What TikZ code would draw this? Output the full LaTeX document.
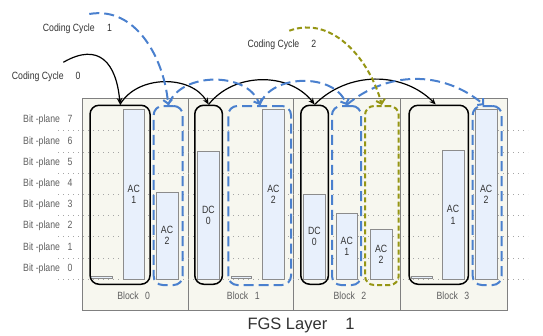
\documentclass[tikz,border=0pt]{standalone}
\usepackage{fontspec}
\setmainfont{Liberation Sans}
\newfontfamily\narrowsans[FakeStretch=0.83]{Liberation Sans}
\usetikzlibrary{arrows.meta}
\definecolor{cblue}{RGB}{74,128,206}
\definecolor{colive}{RGB}{150,150,20}
\definecolor{bgblk}{RGB}{247,247,239}
\definecolor{barfill}{RGB}{232,240,252}
\definecolor{txtdark}{RGB}{50,50,50}
\definecolor{txtgray}{RGB}{95,95,95}
\begin{document}
\begin{tikzpicture}[x=1pt,y=-1pt,
  smalltxt/.style={font=\narrowsans\fontsize{10.5}{11.2}\selectfont, inner sep=0pt},
  lbl/.style={smalltxt, text=txtdark, anchor=west},
  bplbl/.style={smalltxt, text=txtgray, anchor=west},
  blklbl/.style={smalltxt, text=txtgray},
  blockbg/.style={draw=black!50, fill=bgblk, line width=0.8pt, inner sep=0pt,
    minimum width=106pt, minimum height=211.7pt, anchor=north west},
  bar/.style={draw=black!45, fill=barfill, line width=0.6pt, inner sep=0pt,
    minimum width=21.5pt, anchor=south west, smalltxt, text=txtdark, align=center},
  kbox/.style={draw=black, line width=1.5pt, rounded corners=9pt, inner sep=0pt,
    minimum height=179pt, anchor=north west},
  ubox/.style={draw=cblue, line width=2pt, dash pattern=on 10pt off 5pt,
    rounded corners=9pt, inner sep=0pt, minimum height=179pt, anchor=north west},
  obox/.style={draw=colive, line width=2pt, dash pattern=on 5pt off 3pt,
    rounded corners=9pt, inner sep=0pt, minimum height=179pt, anchor=north west},
  dotline/.style={draw=black!35, line width=1.1pt, dash pattern=on 1.3pt off 3.7pt},
  karrow/.style={draw=black, line width=1.2pt, -{Stealth[length=6.5pt,width=5.5pt]}},
  uarrow/.style={draw=cblue, line width=2pt, dash pattern=on 10pt off 5pt,
    -{Straight Barb[length=4pt,width=9pt]}},
  oarrow/.style={draw=colive, line width=2pt, dash pattern=on 5pt off 3pt,
    -{Straight Barb[length=4pt,width=9pt]}}
]
\useasboundingbox (0,0) rectangle (543,335);

% blocks
\node[blockbg] (blk0) at (82,98.3) {};
\node[blockbg, minimum width=105pt] (blk1) at (188,98.3) {};
\node[blockbg, minimum width=107pt] (blk2) at (293,98.3) {};
\node[blockbg, minimum width=107pt] (blk3) at (400,98.3) {};

% dotted bit-plane lines
\foreach \k in {0,...,7} {
  \draw[dotline] (58,{279.3-21.2*\k}) -- (528,{279.3-21.2*\k});
}

% bit-plane labels
\foreach \k in {0,...,7} {
  \node[bplbl] (bp\k) at (23,{268.5-21.2*\k}) {Bit -plane\hspace{7.5pt}\k};
}

% bars block 0
\node[bar, minimum height=2pt, minimum width=22.3pt] (b0dc) at (90,279) {};
\node[bar, minimum height=169.8pt] (b0ac1) at (122.7,279.3) {AC\\1};
\node[bar, minimum height=86.8pt] (b0ac2) at (156,279.3) {AC\\2};
% bars block 1
\node[bar, minimum height=127.8pt] (b1dc) at (197.3,279.3) {DC\\0};
\node[bar, minimum height=2pt, minimum width=20.3pt] (b1ac1) at (230.7,279) {};
\node[bar, minimum height=169.8pt] (b1ac2) at (262.3,279.3) {AC\\2};
% bars block 2
\node[bar, minimum height=85pt] (b2dc) at (303.3,279.3) {DC\\0};
\node[bar, minimum height=66pt] (b2ac1) at (335.7,279.3) {AC\\1};
\node[bar, minimum height=50pt] (b2ac2) at (370,279.3) {AC\\2};
% bars block 3
\node[bar, minimum height=2pt, minimum width=21pt] (b3dc) at (410.7,279) {};
\node[bar, minimum height=128.3pt, minimum width=22pt] (b3ac1) at (441.7,279.3) {AC\\1};
\node[bar, minimum height=169.8pt] (b3ac2) at (475,279.3) {AC\\2};

% black rounded boxes
\node[kbox, minimum width=60pt] (K0) at (89.3,104.5) {};
\node[kbox, minimum width=27.7pt] (K1) at (194,104.5) {};
\node[kbox, minimum width=27.7pt] (K2) at (300,104.5) {};
\node[kbox, minimum width=59.4pt] (K3) at (408.3,104.5) {};
% blue dashed boxes
\node[ubox, minimum width=29pt] (U0) at (152.7,105) {};
\node[ubox, minimum width=62.7pt] (U1) at (227.3,105) {};
\node[ubox, minimum width=29pt] (U2) at (331,105) {};
\node[ubox, minimum width=29pt] (U3) at (471.7,105) {};
% olive dashed box
\node[obox, minimum width=33.7pt] (O2) at (364,105) {};

% block labels
\node[blklbl] (bl0) at (133.7,296) {Block\hspace{6.5pt}0};
\node[blklbl] (bl1) at (243.3,296) {Block\hspace{6.5pt}1};
\node[blklbl] (bl2) at (350,296) {Block\hspace{6.5pt}2};
\node[blklbl] (bl3) at (453,296) {Block\hspace{6.5pt}3};

% coding cycle labels
\node[lbl] (cc0) at (11.7,76.7) {Coding Cycle\hspace{12pt}0};
\node[lbl] (cc1) at (42.7,28.3) {Coding Cycle\hspace{12.5pt}1};
\node[lbl] (cc2) at (247.3,45) {Coding Cycle\hspace{12pt}2};
\coordinate (s0) at (63.3,62.3);
\coordinate (s1) at (89.3,14);
\coordinate (s2) at (289.3,30.7);

% layer label
\node[inner sep=0pt, font=\fontsize{16.5}{18}\selectfont, text=txtdark, anchor=west] (fgs) at (247.3,325) {FGS Layer\hspace{18pt}1};

% black arrows (cycle 0)
\draw[karrow] (s0) to[out=30,in=95,looseness=1.5] (K0.north);
\draw[karrow] (K0.north) to[bend left=60] (K1.north);
\draw[karrow] (K1.north) to[bend left=52] (K2.north);
\draw[karrow] (K2.north) to[bend left=45] ([xshift=-3pt]K3.north);
% blue arrows (cycle 1)
\draw[uarrow] (s1) to[out=10,in=95] (U0.north);
\draw[uarrow] (U0.north) to[bend left=70] (U1.north);
\draw[uarrow] (U1.north) to[bend left=70] (U2.north);
\draw[uarrow] (U2.north) to[bend left=40] ([xshift=-3pt]U3.north);
% olive arrow (cycle 2)
\draw[oarrow] (s2) to[out=20,in=105] (O2.north);
\end{tikzpicture}
\end{document}
